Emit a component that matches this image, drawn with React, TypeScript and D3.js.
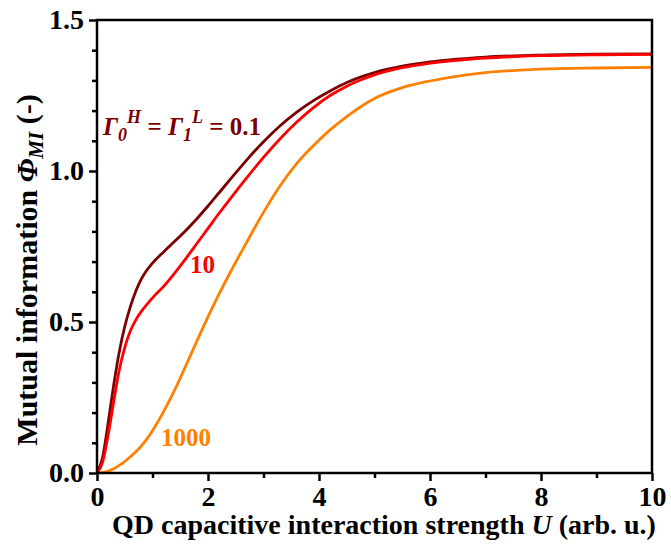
import React, { useEffect, useRef } from "react";
import * as d3 from "d3";

// U grid shared by all three curves
const uGrid = [0, 0.1, 0.2, 0.3, 0.4, 0.5, 0.6, 0.7, 0.8, 0.9, 1.0, 1.2, 1.4, 1.6, 1.8, 2.0, 2.2, 2.4, 2.7, 3.0, 3.3, 3.6, 3.9, 4.2, 4.5, 5.0, 5.5, 6.0, 7.0, 8.0, 9.0, 10.0];

// Gamma = 0.1
const phiLow = [0, 0.05, 0.165, 0.29, 0.4, 0.485, 0.55, 0.603, 0.643, 0.672, 0.695, 0.732, 0.767, 0.803, 0.842, 0.884, 0.928, 0.972, 1.037, 1.097, 1.15, 1.195, 1.233, 1.265, 1.293, 1.326, 1.347, 1.361, 1.377, 1.384, 1.387, 1.388];
// Gamma = 10
const phiMid = [0, 0.035, 0.125, 0.235, 0.34, 0.415, 0.47, 0.507, 0.535, 0.558, 0.58, 0.618, 0.662, 0.71, 0.76, 0.81, 0.86, 0.908, 0.978, 1.045, 1.107, 1.162, 1.21, 1.25, 1.281, 1.318, 1.342, 1.357, 1.374, 1.382, 1.385, 1.386];
// Gamma = 1000
const phiHigh = [0, 0.0015, 0.006, 0.014, 0.025, 0.038, 0.054, 0.07, 0.09, 0.113, 0.14, 0.203, 0.275, 0.355, 0.437, 0.517, 0.593, 0.664, 0.765, 0.863, 0.951, 1.025, 1.084, 1.136, 1.18, 1.24, 1.276, 1.298, 1.326, 1.337, 1.341, 1.343];

const xMajor = [0, 2, 4, 6, 8, 10];
const xMinor = [1, 3, 5, 7, 9];
const yMajor = [0, 0.5, 1.0, 1.5];
const yMinor = [0.1, 0.2, 0.3, 0.4, 0.6, 0.7, 0.8, 0.9, 1.1, 1.2, 1.3, 1.4];

const FONT = "'Liberation Serif', 'Times New Roman', serif";

export default function App() {
  const xRef = useRef<SVGGElement>(null);
  const yRef = useRef<SVGGElement>(null);

  const left = 97, right = 652, top = 20, bottom = 473;
  const x = d3.scaleLinear().domain([0, 10]).range([left, right]);
  const y = d3.scaleLinear().domain([0, 1.5]).range([bottom, top]);

  const line = d3
    .line<number>()
    .x((_, i) => x(uGrid[i]))
    .y((d) => y(d))
    .curve(d3.curveMonotoneX);

  useEffect(() => {
    const gx = d3.select(xRef.current);
    gx.selectAll("*").remove();
    gx.append("g")
      .call(d3.axisBottom(x).tickValues(xMajor).tickFormat(d3.format("d")).tickSize(8).tickSizeOuter(0).tickPadding(5));
    gx.append("g")
      .call(d3.axisBottom(x).tickValues(xMinor).tickFormat(() => "").tickSize(5).tickSizeOuter(0));
    gx.selectAll(".domain").remove();
    gx.selectAll("line").attr("stroke", "#000").attr("stroke-width", 2.5);
    gx.selectAll("text")
      .attr("fill", "#000")
      .style("font-family", FONT)
      .style("font-weight", "bold")
      .style("font-size", "28px");

    const gy = d3.select(yRef.current);
    gy.selectAll("*").remove();
    gy.append("g")
      .call(d3.axisLeft(y).tickValues(yMajor).tickFormat(d3.format(".1f")).tickSize(8).tickSizeOuter(0).tickPadding(5));
    gy.append("g")
      .call(d3.axisLeft(y).tickValues(yMinor).tickFormat(() => "").tickSize(5).tickSizeOuter(0));
    gy.selectAll(".domain").remove();
    gy.selectAll("line").attr("stroke", "#000").attr("stroke-width", 2.5);
    gy.selectAll("text")
      .attr("fill", "#000")
      .style("font-family", FONT)
      .style("font-weight", "bold")
      .style("font-size", "28px");
  }, []);

  return (
    <svg width={671} height={554} style={{ position: "absolute", left: 0, top: 0, background: "#fff" }}>
      <g ref={xRef} transform={`translate(0,${bottom})`} />
      <g ref={yRef} transform={`translate(${left},0)`} />

      <path d={line(phiHigh) ?? ""} fill="none" stroke="#ff8000" strokeWidth={2.8} />
      <path d={line(phiLow) ?? ""} fill="none" stroke="#7b0000" strokeWidth={2.8} />
      <path d={line(phiMid) ?? ""} fill="none" stroke="#ff0000" strokeWidth={2.8} />

      <rect x={left} y={top} width={right - left} height={bottom - top} fill="none" stroke="#000" strokeWidth={2.5} />

      <g fontFamily={FONT} fontWeight="bold" fontSize={25}>
        <text x={103} y={135} fill="#7b0000">
          <tspan fontStyle="italic">Γ</tspan>
          <tspan fontStyle="italic" fontSize={18} dy={6}>0</tspan>
          <tspan fontStyle="italic" fontSize={18} dy={-18}>H</tspan>
          <tspan dy={12}> = </tspan>
          <tspan fontStyle="italic">Γ</tspan>
          <tspan fontStyle="italic" fontSize={18} dy={6}>1</tspan>
          <tspan fontStyle="italic" fontSize={18} dy={-18}>L</tspan>
          <tspan dy={12}> = 0.1</tspan>
        </text>
        <text x={190} y={273} fill="#ff0000">10</text>
        <text x={161} y={446} fill="#ff8000">1000</text>

        <text x={384} y={534} textAnchor="middle" fill="#000" fontSize={28}>
          QD capacitive interaction strength <tspan fontStyle="italic">U</tspan> (arb. u.)
        </text>
        <text transform="translate(37,270) rotate(-90)" textAnchor="middle" fill="#000" fontSize={30}>
          Mutual information <tspan fontStyle="italic">Φ</tspan>
          <tspan fontStyle="italic" fontSize={21} dy={6}>MI</tspan>
          <tspan dy={-6}> (-)</tspan>
        </text>
      </g>
    </svg>
  );
}
